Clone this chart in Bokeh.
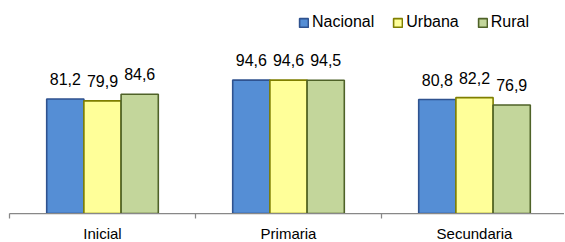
from bokeh.plotting import figure
from bokeh.models import ColumnDataSource, Range1d, FixedTicker
from bokeh.core.properties import value
from bokeh.embed import file_html
from bokeh.resources import INLINE

categories = ["Inicial", "Primaria", "Secundaria"]
series = ["Nacional", "Urbana", "Rural"]
nacional = [81.2, 94.6, 80.8]
urbana = [79.9, 94.6, 82.2]
rural = [84.6, 94.5, 76.9]
values = [nacional, urbana, rural]
labels_text = [["81,2", "94,6", "80,8"], ["79,9", "94,6", "82,2"], ["84,6", "94,5", "76,9"]]

fills = ["#558ED5", "#FFFF99", "#C3D69B"]
lines = ["#2F528F", "#7F7F00", "#4F6228"]
offsets = [-0.2, 0.0, 0.2]
FONT = "Liberation Sans"

p = figure(frame_width=555, frame_height=207, output_backend="svg", toolbar_location=None,
           x_range=Range1d(0, 555 / 186), y_range=Range1d(0, 146.8),
           min_border_left=9, min_border_right=0, min_border_top=6, min_border_bottom=0)
p.outline_line_color = None
p.xgrid.visible = False
p.ygrid.visible = False
p.yaxis.visible = False

centers = [i + 0.5 for i in range(len(categories))]
for k, name in enumerate(series):
    xs = [c + offsets[k] for c in centers]
    src = ColumnDataSource(dict(x=xs, top=values[k], lab=labels_text[k]))
    p.vbar(x="x", top="top", width=0.2, bottom=0, source=src,
           fill_color=fills[k], line_color=lines[k], line_width=1.6, legend_label=name)
    p.text(x="x", y="top", text="lab", source=src, text_align="center",
           text_baseline="alphabetic", y_offset=-20, text_font=value(FONT),
           text_font_size="16px", text_color="#000000")

ax = p.xaxis[0]
ax.ticker = FixedTicker(ticks=centers, minor_ticks=[0, 1, 2, 3])
ax.major_label_overrides = {c: cat for c, cat in zip(centers, categories)}
ax.major_tick_line_color = None
ax.major_tick_out = 0
ax.major_tick_in = 0
ax.minor_tick_out = 5
ax.minor_tick_in = 0
ax.minor_tick_line_color = "#888888"
ax.minor_tick_line_width = 1.25
ax.axis_line_color = "#888888"
ax.axis_line_width = 1.25
ax.major_label_standoff = 6
ax.major_label_text_font = FONT
ax.major_label_text_font_size = "15px"
ax.major_label_text_color = "#000000"

lg = p.legend[0]
lg.orientation = "horizontal"
lg.location = (289, 182)
lg.padding = 0
lg.margin = 0
lg.spacing = 18
lg.border_line_alpha = 0
lg.background_fill_alpha = 0
lg.glyph_width = 11
lg.glyph_height = 11
lg.label_standoff = 3
lg.label_height = 14
lg.label_text_font = FONT
lg.label_text_font_size = "16px"
lg.label_text_color = "#000000"

open("out.html", "w").write(file_html(p, INLINE))
